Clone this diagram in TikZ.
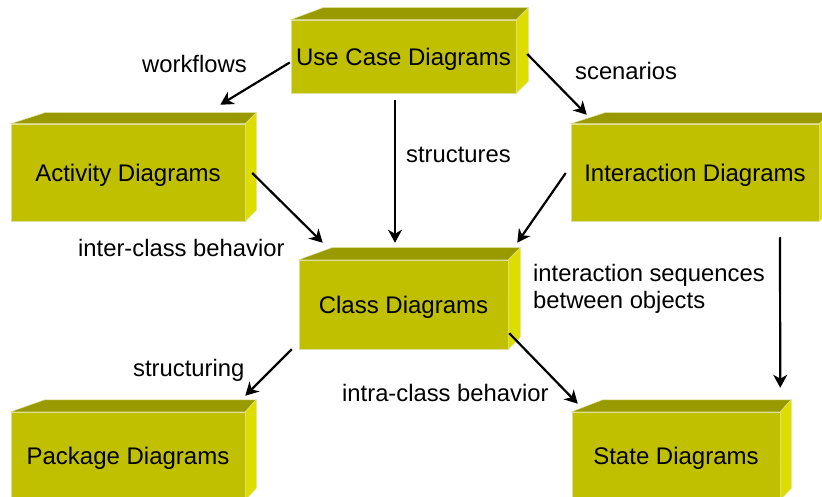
\documentclass[tikz,border=0pt]{standalone}
\usepackage{fontspec}
\setmainfont{Liberation Sans}
\usetikzlibrary{arrows.meta,calc}
\definecolor{frontc}{RGB}{192,192,0}
\definecolor{topc}{RGB}{153,153,0}
\definecolor{sidec}{RGB}{221,221,0}
\definecolor{edgec}{RGB}{222,222,150}

\begin{document}
\begin{tikzpicture}[x=1pt,y=-1pt,
  cube/.style={fill=frontc, draw=edgec, line width=0.5pt, inner sep=0pt,
    text depth=0pt, font=\fontsize{24}{28}\selectfont},
  lbl/.style={anchor=base west, inner sep=0pt, font=\fontsize{23.8}{27}\selectfont},
  arr/.style={draw=black, line width=2.2pt,
    -{Stealth[length=13pt,width=14pt,inset=4pt]}},
  topface/.style={fill=topc, draw=edgec, line width=0.5pt},
  sideface/.style={fill=sidec, draw=edgec, line width=0.5pt}]

\useasboundingbox (0,0) rectangle (822,497);
\clip (0,0) rectangle (822,497);

% front faces of the boxes
\node[cube, minimum width=225pt, minimum height=73pt] (uc)  at (403.5,56.5)  {Use Case Diagrams};
\node[cube, minimum width=234pt, minimum height=97pt] (act) at (128,172.5)   {Activity Diagrams};
\node[cube, minimum width=248pt, minimum height=97pt] (int) at (695,172.5)   {Interaction Diagrams};
\node[cube, minimum width=209pt, minimum height=89pt] (cls) at (403.5,304.5) {Class Diagrams};
\node[cube, minimum width=234pt, minimum height=88pt] (pkg) at (128,456)     {Package Diagrams};
\node[cube, minimum width=208pt, minimum height=88pt] (st)  at (676,456)     {State Diagrams};

% top and right faces: left depth, right depth, height of the bevel
\foreach \n/\l/\r/\d in {uc/32/12/12, act/34/11/11, int/34/11/11,
                         cls/33/12/12, pkg/34/11/12, st/31/11/12} {
  \path[topface] (\n.north west) -- ([shift={(\l,-\d)}]\n.north west)
    -- ([shift={(\r,-\d)}]\n.north east) -- (\n.north east) -- cycle;
  \path[sideface] (\n.north east) -- ([shift={(\r,-\d)}]\n.north east)
    -- ([shift={(\r,-\d)}]\n.south east) -- (\n.south east) -- cycle;
}

% connector end points
\coordinate (a1s) at ([shift={(-1,6)}]uc.west);
\coordinate (a1e) at ([shift={(-25,-19)}]act.north east);
\coordinate (a2s) at ([shift={(11,-2.5)}]uc.east);
\coordinate (a2e) at ([shift={(16,-9)}]int.north west);
\coordinate (a3s) at ([shift={(-8.5,7)}]uc.south);
\coordinate (a3e) at ([shift={(-8.5,-17)}]cls.north);
\coordinate (a4s) at ([shift={(7,0.5)}]act.east);
\coordinate (a4e) at ([shift={(24,-17)}]cls.north west);
\coordinate (a5s) at ([shift={(-5,0.5)}]int.west);
\coordinate (a5e) at ([shift={(9,-17)}]cls.north east);
\coordinate (a6s) at ([shift={(85,16)}]int.south);
\coordinate (a6e) at ([shift={(0,-24)}]st.north east);
\coordinate (a7s) at ([shift={(-7,0)}]cls.south west);
\coordinate (a7e) at ([shift={(0,-16)}]pkg.north east);
\coordinate (a8s) at ([shift={(1,-16)}]cls.south east);
\coordinate (a8e) at ([shift={(6,-8)}]st.north west);

% connectors
\draw[arr] (a1s) -- (a1e);
\draw[arr] (a2s) -- (a2e);
\draw[arr] (a3s) -- (a3e);
\draw[arr] (a4s) -- (a4e);
\draw[arr] (a5s) -- (a5e);
\draw[arr] (a6s) -- (a6e);
\draw[arr] (a7s) -- (a7e);
\draw[arr] (a8s) -- (a8e);

% connector labels
\node[lbl] (lwf)  at (142,73)  {workflows};
\node[lbl] (lsc)  at (575,80)  {scenarios};
\node[lbl] (lst)  at (406,163) {structures};
\node[lbl] (lic)  at (78,256)  {inter-class behavior};
\node[lbl] (lis1) at (533,281) {interaction sequences};
\node[lbl] (lis2) at (533,308) {between objects};
\node[lbl] (lsg)  at (133,376) {structuring};
\node[lbl] (lia)  at (342,401) {intra-class behavior};
\end{tikzpicture}
\end{document}
